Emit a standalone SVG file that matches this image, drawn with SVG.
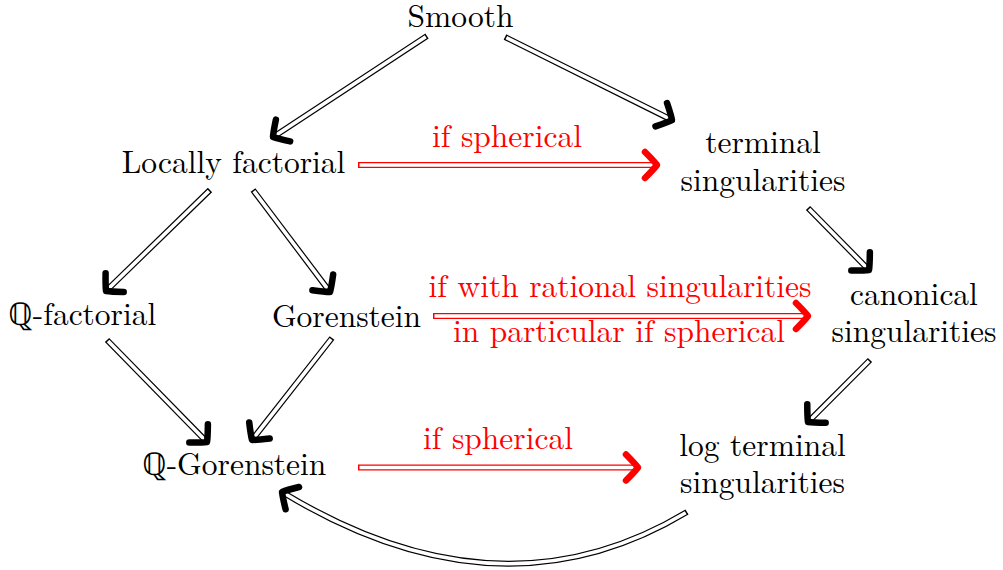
<svg xmlns="http://www.w3.org/2000/svg" xmlns:xlink="http://www.w3.org/1999/xlink" width="1003" height="570" viewBox="0 0 1003 570">
<style>
.t{font-size:31.5px;text-anchor:middle;fill:#000}
.r{fill:#ff0000}
.o{fill:none;stroke:#000;stroke-width:6}
.i{fill:none;stroke:#fff;stroke-width:3.6;stroke-dasharray:0 1.5 3000}
.ro{fill:none;stroke:#ff0000;stroke-width:6}
.mk{fill:none;stroke:none;marker-end:url(#ahk)}
.mr{fill:none;stroke:none;marker-end:url(#ahr)}
</style>
<defs>
<marker id="ahk" markerUnits="userSpaceOnUse" orient="auto" refX="-3" refY="0" viewBox="-20 -20 30 40" markerWidth="30" markerHeight="40" overflow="visible">
<path d="M -12,-13 Q -3,-4 0,0 Q -3,4 -12,13" fill="none" stroke="#000" stroke-width="6.5" stroke-linecap="round" stroke-linejoin="round"/>
</marker>
<marker id="ahr" markerUnits="userSpaceOnUse" orient="auto" refX="-3" refY="0" viewBox="-20 -20 30 40" markerWidth="30" markerHeight="40" overflow="visible">
<path d="M -12,-13 Q -3,-4 0,0 Q -3,4 -12,13" fill="none" stroke="#ff0000" stroke-width="6.5" stroke-linecap="round" stroke-linejoin="round"/>
</marker>
<path id="a1" d="M 427,36 L 275.5,135.4"/>
<path id="a2" d="M 505,37 L 669.3,118.7"/>
<path id="a3" d="M 358,165 L 654,165"/>
<path id="a4" d="M 210,190 L 108.2,288.9"/>
<path id="a5" d="M 253,190 L 328.2,289.6"/>
<path id="a6" d="M 808,208 L 866.9,267.9"/>
<path id="a7" d="M 433,316 L 805,316"/>
<path id="a8" d="M 107,340 L 204.9,439.9"/>
<path id="a9" d="M 332,338 L 253.9,437.6"/>
<path id="a10" d="M 870,360 L 810.1,419.9"/>
<path id="a11" d="M 358,467.5 L 635,467.5"/>
<path id="a12" d="M 687,512 Q 501,624 284.6,493.5"/>
</defs>
<g font-family="Latin Modern Roman, Liberation Serif, serif">
<g id="connectors">
<use xlink:href="#a1" class="o"/><use xlink:href="#a1" class="i"/><use xlink:href="#a1" class="mk"/>
<use xlink:href="#a2" class="o"/><use xlink:href="#a2" class="i"/><use xlink:href="#a2" class="mk"/>
<use xlink:href="#a3" class="ro"/><use xlink:href="#a3" class="i"/><use xlink:href="#a3" class="mr"/>
<use xlink:href="#a4" class="o"/><use xlink:href="#a4" class="i"/><use xlink:href="#a4" class="mk"/>
<use xlink:href="#a5" class="o"/><use xlink:href="#a5" class="i"/><use xlink:href="#a5" class="mk"/>
<use xlink:href="#a6" class="o"/><use xlink:href="#a6" class="i"/><use xlink:href="#a6" class="mk"/>
<use xlink:href="#a7" class="ro"/><use xlink:href="#a7" class="i"/><use xlink:href="#a7" class="mr"/>
<use xlink:href="#a8" class="o"/><use xlink:href="#a8" class="i"/><use xlink:href="#a8" class="mk"/>
<use xlink:href="#a9" class="o"/><use xlink:href="#a9" class="i"/><use xlink:href="#a9" class="mk"/>
<use xlink:href="#a10" class="o"/><use xlink:href="#a10" class="i"/><use xlink:href="#a10" class="mk"/>
<use xlink:href="#a11" class="ro"/><use xlink:href="#a11" class="i"/><use xlink:href="#a11" class="mr"/>
<use xlink:href="#a12" class="o"/><use xlink:href="#a12" class="i"/><use xlink:href="#a12" class="mk"/>
<text class="t r" x="507" y="147">if spherical</text>
<text class="t r" x="620" y="297">if with rational singularities</text>
<text class="t r" x="619" y="342">in particular if spherical</text>
<text class="t r" x="498" y="449">if spherical</text>
</g>
<g id="smooth"><text class="t" x="460.5" y="27">Smooth</text></g>
<g id="locally-factorial"><text class="t" x="233.5" y="173">Locally factorial</text></g>
<g id="terminal"><text class="t" x="763" y="153">terminal</text><text class="t" x="763" y="191">singularities</text></g>
<g id="q-factorial"><text class="t" x="82" y="325">ℚ-factorial</text></g>
<g id="gorenstein"><text class="t" x="346.5" y="327">Gorenstein</text></g>
<g id="canonical"><text class="t" x="914" y="305">canonical</text><text class="t" x="914" y="342">singularities</text></g>
<g id="q-gorenstein"><text class="t" x="234" y="475">ℚ-Gorenstein</text></g>
<g id="log-terminal"><text class="t" x="762.5" y="456">log terminal</text><text class="t" x="762.5" y="493">singularities</text></g>
</g>
</svg>
